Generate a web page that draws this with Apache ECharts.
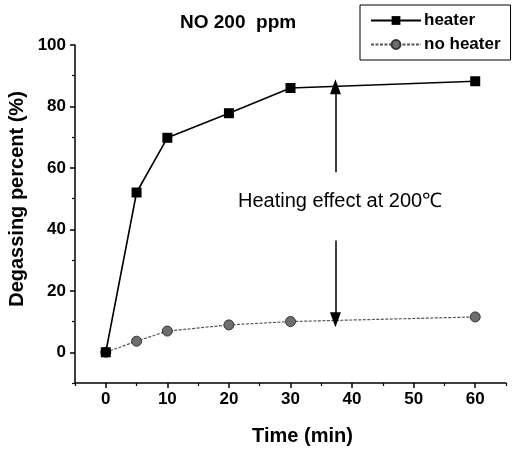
<!DOCTYPE html>
<html>
<head>
<meta charset="utf-8">
<script src="https://cdn.jsdelivr.net/npm/echarts@6/dist/echarts.min.js"></script>
<style>
  html, body { margin: 0; padding: 0; background: #fff; }
  #degasChart { width: 514px; height: 453px; }
</style>
</head>
<body>
<div id="degasChart"></div>
<script>
// Degassing percent vs time, NO 200 ppm

var timeMin = [0, 5, 10, 20, 30, 60];
var heater = [0, 52, 69.8, 77.8, 86, 88.2];
var noHeater = [0, 3.6, 6.9, 8.9, 10, 11.5];

var xTicks = [0, 10, 20, 30, 40, 50, 60];
var xMinorTicks = [-5, 5, 15, 25, 35, 45, 55, 65];
var yTicks = [0, 20, 40, 60, 80, 100];
var yMinorTicks = [-10, 10, 30, 50, 70, 90];

// arrows showing the heating effect
var arrowX = 37.3;
var arrowUp = [58.6, 86.4];
var arrowDown = [36.4, 10.6];

var font = 'Liberation Sans, Arial, sans-serif';

function pairs(xs, ys) {
    return xs.map(function (x, i) { return [x, ys[i]]; });
}

function arrow(from, to) {
    return [
        { coord: [arrowX, from], symbol: 'none' },
        { coord: [arrowX, to], symbol: 'triangle', symbolSize: [11, 15] }
    ];
}

document.addEventListener('DOMContentLoaded', () => {
    var chart = echarts.init(document.querySelector('#degasChart'));
    chart.setOption({
        animation: false,
        textStyle: { fontFamily: font },
        grid: { left: 75, right: 8, top: 45, bottom: 70 },
        title: {
            text: 'NO 200  ppm',
            left: 175,
            top: 8,
            textStyle: { fontFamily: font, fontSize: 19, fontWeight: 'bold', color: '#000' }
        },
        legend: {
            data: ['heater', 'no heater'],
            orient: 'vertical',
            left: 360,
            top: 5,
            width: 152,
            padding: [7, 10, 7, 10],
            itemGap: 7,
            itemWidth: 50,
            itemHeight: 11,
            borderColor: '#000',
            borderWidth: 1,
            borderRadius: 0,
            textStyle: { fontFamily: font, fontSize: 17, fontWeight: 'bold', color: '#000', padding: [0, 0, 0, -2] }
        },
        xAxis: [
            {
                type: 'value',
                min: -5,
                max: 65,
                name: 'Time (min)',
                nameLocation: 'middle',
                nameGap: 43,
                nameTextStyle: { fontFamily: font, fontSize: 20, fontWeight: 'bold', color: '#000', padding: [0, 0, 0, 24] },
                splitLine: { show: false },
                axisLine: { onZero: false, lineStyle: { color: '#000', width: 1.5 } },
                axisTick: { customValues: xTicks, length: 5, lineStyle: { color: '#000', width: 1.5 } },
                axisLabel: {
                    customValues: xTicks,
                    margin: 8,
                    color: '#000',
                    fontSize: 17,
                    fontWeight: 'bold',
                    fontFamily: font
                }
            },
            {
                type: 'value',
                min: -5,
                max: 65,
                position: 'bottom',
                splitLine: { show: false },
                axisLine: { show: false, onZero: false },
                axisTick: { customValues: xMinorTicks, length: 3, lineStyle: { color: '#000', width: 1.2 } },
                axisLabel: { show: false, customValues: xMinorTicks }
            }
        ],
        yAxis: [
            {
                type: 'value',
                min: -10,
                max: 100,
                splitLine: { show: false },
                axisLine: { show: true, onZero: false, lineStyle: { color: '#000', width: 1.5 } },
                axisTick: { show: true, customValues: yTicks, length: 5, lineStyle: { color: '#000', width: 1.5 } },
                axisLabel: {
                    customValues: yTicks,
                    margin: 9,
                    color: '#000',
                    fontSize: 17,
                    fontWeight: 'bold',
                    fontFamily: font
                }
            },
            {
                type: 'value',
                min: -10,
                max: 100,
                position: 'left',
                splitLine: { show: false },
                axisLine: { show: false, onZero: false },
                axisTick: { show: true, customValues: yMinorTicks, length: 3, lineStyle: { color: '#000', width: 1.2 } },
                axisLabel: { show: false, customValues: yMinorTicks }
            }
        ],
        graphic: [
            {
                type: 'text',
                x: 17,
                y: 199,
                rotation: Math.PI / 2,
                style: {
                    text: 'Degassing percent (%)',
                    font: 'bold 20px ' + font,
                    fill: '#000',
                    align: 'center',
                    verticalAlign: 'middle'
                }
            },
            {
                type: 'text',
                left: 238,
                top: 191,
                style: { text: 'Heating effect at 200\u2103', font: '20px ' + font, fill: '#000' }
            }
        ],
        series: [
            {
                name: 'no heater',
                type: 'line',
                data: pairs(timeMin, noHeater),
                symbol: 'circle',
                symbolSize: 10,
                lineStyle: { color: '#555', width: 1.2, type: [3, 1.5] },
                itemStyle: { color: '#6e6e6e', borderColor: '#333', borderWidth: 1 },
                z: 2
            },
            {
                name: 'heater',
                type: 'line',
                data: pairs(timeMin, heater),
                symbol: 'rect',
                symbolSize: 10,
                lineStyle: { color: '#000', width: 1.6 },
                itemStyle: { color: '#000' },
                z: 3,
                markLine: {
                    silent: true,
                    label: { show: false },
                    lineStyle: { color: '#000', width: 1.5, type: 'solid' },
                    data: [arrow(arrowUp[0], arrowUp[1]), arrow(arrowDown[0], arrowDown[1])]
                }
            }
        ]
    });
});
</script>
</body>
</html>
